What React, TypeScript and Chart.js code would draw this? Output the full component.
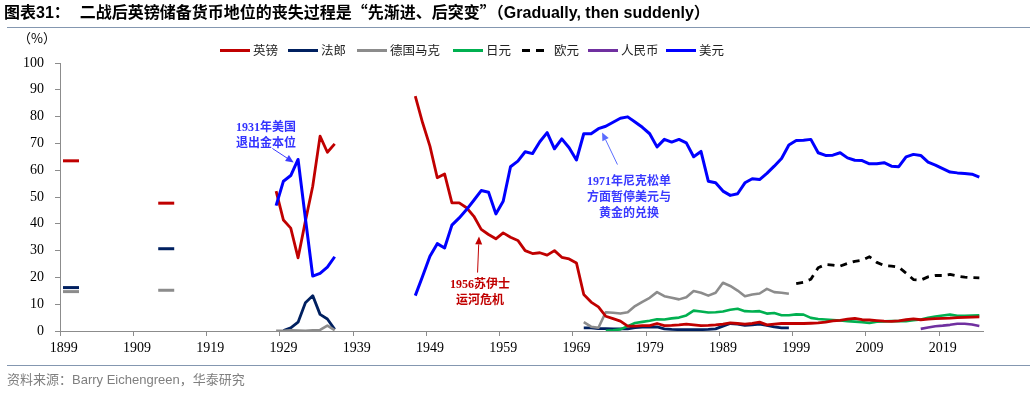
import React, { useEffect, useRef } from "react";
import { Chart, registerables } from "chart.js";

Chart.register(...registerables);

// ---------- data ----------
const xTickYears = [1899, 1909, 1919, 1929, 1939, 1949, 1959, 1969, 1979, 1989, 1999, 2009, 2019];

const earlyYears = [1900, 1913];
const gbpEarly = [63.5, 47.7];
const frfEarly = [16.2, 30.7];
const demEarly = [14.7, 15.2];

const interwarYears = [1928, 1929, 1930, 1931, 1932, 1933, 1934, 1935, 1936];
const gbpInterwar = [52.2, 41.4, 38.4, 27.3, 41.0, 54.0, 72.7, 66.7, 69.8];
const usdInterwar = [46.8, 55.9, 58.0, 64.0, 42.0, 20.5, 21.5, 23.8, 27.7];
const frfInterwar = [null, 0.2, 1.2, 3.3, 10.5, 13.2, 6.2, 4.5, 0.6];
const demInterwar = [0.1, 0.1, 0.3, 0.2, 0.1, 0.3, 0.4, 2.0, 0.3];

const postwarYears = [
  1947, 1948, 1949, 1950, 1951, 1952, 1953, 1954, 1955, 1956,
  1957, 1958, 1959, 1960, 1961, 1962, 1963, 1964, 1965, 1966,
  1967, 1968, 1969, 1970, 1971, 1972, 1973, 1974, 1975, 1976,
  1977, 1978, 1979, 1980, 1981, 1982, 1983, 1984, 1985, 1986,
  1987, 1988, 1989, 1990, 1991, 1992, 1993, 1994, 1995, 1996,
  1997, 1998, 1999, 2000, 2001, 2002, 2003, 2004, 2005, 2006,
  2007, 2008, 2009, 2010, 2011, 2012, 2013, 2014, 2015, 2016,
  2017, 2018, 2019, 2020, 2021, 2022, 2023, 2024,
];
const gbpPostwar = [
  87.6, 77.7, 69.0, 57.2, 58.6, 47.8, 47.8, 46.0, 42.8, 37.9,
  36.0, 34.4, 36.6, 35.0, 33.8, 30.0, 28.9, 29.2, 28.3, 30.0,
  27.5, 26.9, 25.4, 13.6, 10.8, 9.0, 5.5, 4.6, 3.7, 1.8,
  1.8, 2.0, 2.0, 2.8, 2.0, 2.1, 2.3, 2.6, 2.3, 2.0,
  2.1, 2.3, 2.6, 3.0, 2.8, 2.6, 2.8, 3.3, 2.3, 2.6,
  2.8, 2.8, 2.8, 2.8, 2.9, 3.0, 3.3, 3.8, 4.0, 4.4,
  4.7, 4.2, 4.1, 3.9, 3.7, 3.6, 3.8, 4.2, 4.5, 4.2,
  4.4, 4.6, 4.7, 4.8, 5.0, 5.1, 5.2, 5.3,
];
const usdPostwar = [
  13.2, 20.4, 27.9, 32.6, 31.0, 39.5, 42.2, 45.3, 48.8, 52.4,
  51.8, 43.7, 48.4, 61.3, 63.4, 66.9, 66.2, 70.6, 74.0, 68.0,
  71.7, 68.4, 63.8, 73.6, 73.6, 75.5, 76.4, 77.9, 79.4, 79.9,
  78.0, 76.0, 73.6, 68.7, 71.5, 70.5, 71.5, 70.2, 65.0, 67.0,
  55.9, 55.3, 52.2, 50.6, 51.2, 55.3, 56.8, 56.5, 58.8, 61.5,
  64.4, 69.4, 71.1, 71.2, 71.5, 66.5, 65.5, 65.6, 66.5, 64.6,
  63.7, 63.6, 62.4, 62.4, 62.8, 61.5, 61.3, 65.0, 65.9, 65.5,
  63.0, 61.9, 60.6, 59.3, 59.0, 58.8, 58.5, 57.4,
];

const lateYears7098 = [
  1970, 1971, 1972, 1973, 1974, 1975, 1976, 1977, 1978, 1979,
  1980, 1981, 1982, 1983, 1984, 1985, 1986, 1987, 1988, 1989,
  1990, 1991, 1992, 1993, 1994, 1995, 1996, 1997, 1998,
];
const demPostwar = [
  3.3, 1.6, 1.2, 7.0, 6.8, 6.5, 7.0, 9.3, 10.9, 12.4,
  14.5, 13.0, 12.4, 11.8, 12.6, 14.9, 14.3, 13.2, 14.3, 18.0,
  16.8, 15.1, 13.0, 13.6, 14.0, 15.7, 14.5, 14.3, 13.9,
];
const frfPostwar = [
  1.2, 1.2, 0.9, 0.9, 0.8, 0.8, 0.8, 1.3, 1.5, 1.5,
  1.5, 0.8, 0.6, 0.5, 0.5, 0.5, 0.5, 0.6, 0.8, 1.8,
  2.8, 2.6, 2.1, 2.3, 2.6, 2.1, 1.5, 1.2, 1.2,
];

const jpyYears = [
  1973, 1974, 1975, 1976, 1977, 1978, 1979,
  1980, 1981, 1982, 1983, 1984, 1985, 1986, 1987, 1988, 1989,
  1990, 1991, 1992, 1993, 1994, 1995, 1996, 1997, 1998, 1999,
  2000, 2001, 2002, 2003, 2004, 2005, 2006, 2007, 2008, 2009,
  2010, 2011, 2012, 2013, 2014, 2015, 2016, 2017, 2018, 2019,
  2020, 2021, 2022, 2023, 2024,
];
const jpyValues = [
  0.1, 0.3, 0.6, 1.8, 3.0, 3.4, 3.8,
  4.4, 4.3, 4.7, 5.0, 5.8, 7.6, 7.3, 6.9, 7.0, 7.3,
  7.9, 8.3, 7.4, 7.3, 7.4, 6.5, 6.7, 5.9, 5.9, 6.2,
  6.1, 4.9, 4.5, 4.3, 4.1, 3.9, 3.7, 3.5, 3.3, 3.0,
  3.5, 3.6, 3.7, 3.7, 3.7, 4.0, 4.3, 4.9, 5.4, 5.8,
  6.1, 5.7, 5.7, 5.8, 5.9,
];

const eurYears = [
  1999, 2000, 2001, 2002, 2003, 2004, 2005, 2006, 2007, 2008,
  2009, 2010, 2011, 2012, 2013, 2014, 2015, 2016, 2017, 2018,
  2019, 2020, 2021, 2022, 2023, 2024,
];
const eurValues = [
  17.7, 18.2, 19.3, 23.6, 24.8, 24.6, 24.2, 25.2, 26.0, 26.4,
  27.7, 25.6, 24.4, 24.2, 23.8, 21.6, 19.2, 19.0, 20.2, 20.7,
  20.7, 21.1, 20.5, 20.1, 19.9, 19.8,
];

const cnyYears = [2016, 2017, 2018, 2019, 2020, 2021, 2022, 2023, 2024];
const cnyValues = [0.8, 1.3, 1.8, 2.0, 2.3, 2.7, 2.7, 2.4, 1.9];

const seriesNames = ["英镑", "法郎", "德国马克", "日元", "欧元", "人民币", "美元"];
const seriesColors = ["#C00000", "#002060", "#8C8C8C", "#00B050", "#000000", "#7030A0", "#0000FF"];

// annotation arrows: [year, value] tail -> tip
const arrowNotes = [
  { from: [1927.5, 68.1], to: [1930.4, 62.9], color: "#3b3bff" },
  { from: [1955.5, 21.8], to: [1955.7, 35.3], color: "#C00000" },
  { from: [1974.6, 62.1], to: [1972.5, 74.1], color: "#5a6cff" },
];

// ---------- helpers ----------
type P = { x: number; y: number | null };
const pts = (years: number[], vals: (number | null)[]): P[] =>
  years.map((x, i) => ({ x, y: vals[i] }));
const gap = (x: number): P => ({ x, y: null });

const lineDs = (label: string, color: string, data: P[], width = 3, dash: number[] = []) => ({
  label,
  data,
  borderColor: color,
  backgroundColor: color,
  borderWidth: width,
  borderDash: dash,
  borderJoinStyle: "round",
  pointRadius: 0,
  pointHoverRadius: 0,
  tension: 0,
  spanGaps: false,
  fill: false,
});

const markerDs = (label: string, color: string, data: P[]) => ({
  label,
  data,
  showLine: false,
  pointStyle: "line",
  pointRadius: 8,
  pointHoverRadius: 8,
  pointBorderWidth: 3,
  pointBorderColor: color,
  borderColor: color,
  backgroundColor: color,
});

const arrowPlugin = {
  id: "arrowNotes",
  afterDatasetsDraw(chart: any) {
    const { ctx } = chart;
    const xs = chart.scales.x;
    const ys = chart.scales.y;
    ctx.save();
    for (const a of arrowNotes) {
      const x1 = xs.getPixelForValue(a.from[0]);
      const y1 = ys.getPixelForValue(a.from[1]);
      const x2 = xs.getPixelForValue(a.to[0]);
      const y2 = ys.getPixelForValue(a.to[1]);
      const ang = Math.atan2(y2 - y1, x2 - x1);
      const head = 8;
      const half = 3.5;
      const bx = x2 - Math.cos(ang) * head;
      const by = y2 - Math.sin(ang) * head;
      ctx.strokeStyle = a.color;
      ctx.fillStyle = a.color;
      ctx.lineWidth = 1;
      ctx.beginPath();
      ctx.moveTo(x1, y1);
      ctx.lineTo(bx, by);
      ctx.stroke();
      ctx.beginPath();
      ctx.moveTo(x2, y2);
      ctx.lineTo(bx + Math.sin(ang) * half, by - Math.cos(ang) * half);
      ctx.lineTo(bx - Math.sin(ang) * half, by + Math.cos(ang) * half);
      ctx.closePath();
      ctx.fill();
    }
    ctx.restore();
  },
};

const CJK = "'Noto Sans CJK SC', sans-serif";
const SERIF = "'Liberation Serif', 'Noto Sans CJK SC', serif";
const LATIN = "'Liberation Sans', 'Noto Sans CJK SC', sans-serif";

export default function App() {
  const canvasRef = useRef<HTMLCanvasElement | null>(null);

  useEffect(() => {
    if (!canvasRef.current) return;
    const [cGbp, cFrf, cDem, cJpy, cEur, cCny, cUsd] = seriesColors;
    const [nGbp, nFrf, nDem, nJpy, nEur, nCny, nUsd] = seriesNames;

    const datasets: any[] = [
      lineDs(nUsd, cUsd, [...pts(interwarYears, usdInterwar), gap(1940), ...pts(postwarYears, usdPostwar)], 3),
      lineDs(nGbp, cGbp, [...pts(interwarYears, gbpInterwar), gap(1940), ...pts(postwarYears, gbpPostwar)], 2.8),
      lineDs(nJpy, cJpy, pts(jpyYears, jpyValues), 2.6),
      lineDs(nEur, cEur, pts(eurYears, eurValues), 2.8, [7, 6]),
      lineDs(nCny, cCny, pts(cnyYears, cnyValues), 2.6),
      lineDs(nDem, cDem, [...pts(interwarYears, demInterwar), gap(1940), ...pts(lateYears7098, demPostwar)], 2.6),
      lineDs(nFrf, cFrf, [...pts(interwarYears, frfInterwar), gap(1940), ...pts(lateYears7098, frfPostwar)], 2.8),
      markerDs(nGbp, cGbp, pts(earlyYears, gbpEarly)),
      markerDs(nFrf, cFrf, pts(earlyYears, frfEarly)),
      markerDs(nDem, cDem, pts(earlyYears, demEarly)),
    ];

    const axisColor = "#8C8C8C";
    const tickFont = { family: "'Liberation Serif', serif", size: 14 };

    const chart = new Chart(canvasRef.current, {
      type: "line",
      data: { datasets },
      options: {
        animation: false,
        responsive: false,
        events: [],
        layout: { padding: { left: 10, top: 63, right: 47, bottom: 31 } },
        plugins: {
          legend: { display: false },
          tooltip: { enabled: false },
          title: { display: false },
        },
        scales: {
          x: {
            type: "linear",
            min: 1898.5,
            max: 2024.5,
            afterBuildTicks: (s: any) => {
              s.ticks = xTickYears.map((v) => ({ value: v - 0.5 }));
            },
            afterFit: (s: any) => {
              s.height = 31;
            },
            ticks: {
              autoSkip: false,
              maxRotation: 0,
              minRotation: 0,
              labelOffset: 3.7,
              padding: 4,
              color: "#000",
              font: tickFont,
              callback: (v: any) => String(Math.round(Number(v) + 0.5)),
            },
            grid: { drawOnChartArea: false, drawTicks: true, tickLength: 5, color: axisColor },
            border: { display: true, color: axisColor, width: 1 },
          },
          y: {
            min: 0,
            max: 100,
            afterFit: (s: any) => {
              s.width = 50;
            },
            ticks: { stepSize: 10, padding: 11, color: "#000", font: tickFont },
            grid: { drawOnChartArea: false, drawTicks: true, tickLength: 5, color: axisColor },
            border: { display: true, color: axisColor, width: 1 },
          },
        },
      } as any,
      plugins: [arrowPlugin],
    });
    return () => chart.destroy();
  }, []);

  const legendX = [220, 288, 357, 453, 522, 588, 666];

  return (
    <div
      style={{
        position: "absolute",
        left: 0,
        top: 0,
        width: 1030,
        height: 393,
        background: "#fff",
        overflow: "hidden",
      }}
    >
      <canvas ref={canvasRef} width={1030} height={393} style={{ position: "absolute", left: 0, top: 0 }} />

      {/* title */}
      <div
        style={{
          position: "absolute",
          left: 4,
          top: 1,
          fontFamily: CJK,
          fontWeight: 700,
          fontSize: 16,
          lineHeight: "20px",
          color: "#000",
          whiteSpace: "nowrap",
        }}
      >
        图表<span style={{ fontFamily: LATIN }}>31</span>：
        <span style={{ marginLeft: 10 }}>二战后英镑储备货币地位的丧失过程是“先渐进、后突变”（</span>
        <span style={{ fontFamily: LATIN }}>Gradually, then suddenly</span>）
      </div>
      <div style={{ position: "absolute", left: 7, top: 27, width: 1023, height: 1, background: "#8497B0" }} />

      {/* unit */}
      <div
        style={{
          position: "absolute",
          left: 18,
          top: 30,
          fontFamily: CJK,
          fontSize: 13,
          lineHeight: "16px",
          color: "#000",
          whiteSpace: "nowrap",
        }}
      >
        （%）
      </div>

      {/* legend */}
      {seriesNames.map((name, i) => {
        const dashed = i === 4;
        return (
          <div
            key={name}
            style={{
              position: "absolute",
              left: legendX[i],
              top: 41,
              height: 18,
              display: "flex",
              alignItems: "center",
              whiteSpace: "nowrap",
            }}
          >
            <div
              style={{
                width: dashed ? 26 : 30,
                height: 3,
                marginRight: dashed ? 6 : 3,
                background: dashed
                  ? "repeating-linear-gradient(to right, #000 0px, #000 8px, transparent 8px, transparent 14px)"
                  : seriesColors[i],
              }}
            />
            <span style={{ fontFamily: CJK, fontSize: 12.5, color: "#222", lineHeight: "18px" }}>{name}</span>
          </div>
        );
      })}

      {/* annotations */}
      <div
        style={{
          position: "absolute",
          left: 216,
          top: 119,
          width: 100,
          textAlign: "center",
          fontFamily: SERIF,
          fontWeight: 700,
          fontSize: 12,
          lineHeight: "16px",
          color: "#3333FF",
        }}
      >
        1931年美国
        <br />
        退出金本位
      </div>
      <div
        style={{
          position: "absolute",
          left: 430,
          top: 277,
          width: 100,
          textAlign: "center",
          fontFamily: SERIF,
          fontWeight: 700,
          fontSize: 12,
          lineHeight: "15.5px",
          color: "#C00000",
        }}
      >
        1956苏伊士
        <br />
        运河危机
      </div>
      <div
        style={{
          position: "absolute",
          left: 569,
          top: 173,
          width: 120,
          textAlign: "center",
          fontFamily: SERIF,
          fontWeight: 700,
          fontSize: 12,
          lineHeight: "16px",
          color: "#3A3AFF",
        }}
      >
        1971年尼克松单
        <br />
        方面暂停美元与
        <br />
        黄金的兑换
      </div>

      {/* source */}
      <div style={{ position: "absolute", left: 7, top: 365, width: 1023, height: 1, background: "#8497B0" }} />
      <div
        style={{
          position: "absolute",
          left: 7,
          top: 371,
          fontFamily: LATIN,
          fontSize: 13,
          lineHeight: "17px",
          color: "#7F7F7F",
          whiteSpace: "nowrap",
        }}
      >
        资料来源：Barry Eichengreen，华泰研究
      </div>
    </div>
  );
}
